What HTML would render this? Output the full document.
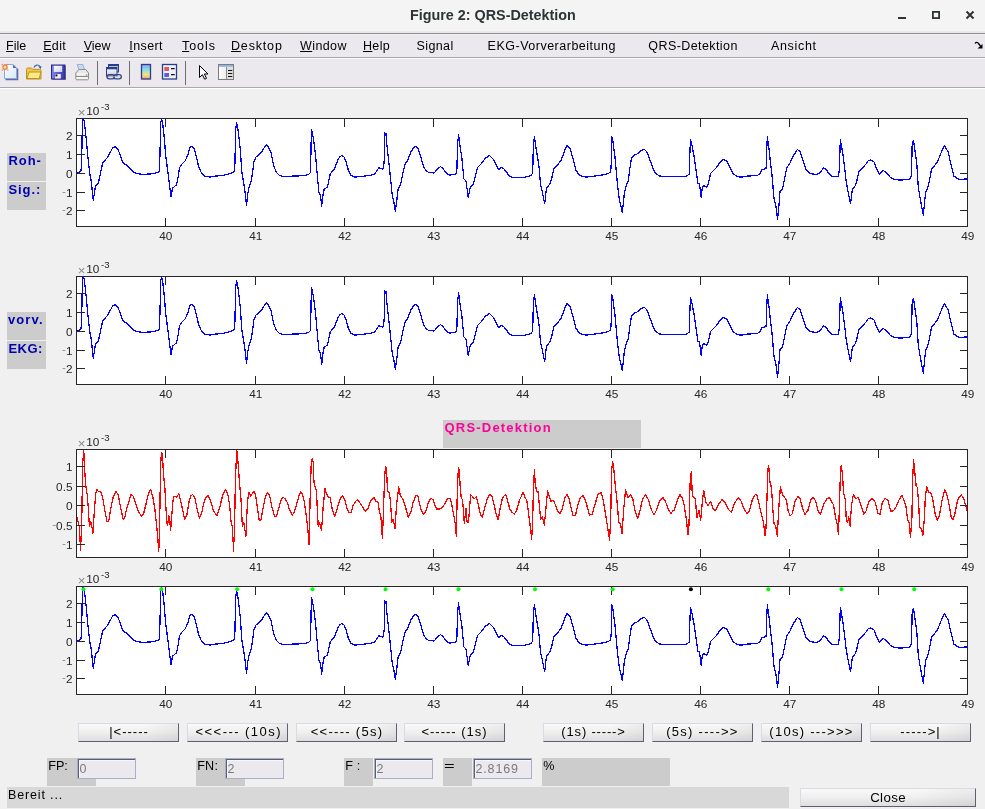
<!DOCTYPE html>
<html><head><meta charset="utf-8"><style>
*{margin:0;padding:0;box-sizing:border-box}
html,body{width:985px;height:809px;overflow:hidden;background:#f0f0f0;font-family:"Liberation Sans", sans-serif;}
.abs{position:absolute}
#title{position:absolute;left:0;top:0;width:985px;height:33px;background:linear-gradient(#f4f4f4 0,#f4f4f4 31px,#e8e8e8 31px,#e8e8e8 33px);}
#title .t{position:absolute;left:410px;top:7px;font-size:14.35px;font-weight:bold;color:#2e3436;white-space:nowrap;letter-spacing:0px}
#tline{position:absolute;left:0;top:33px;width:985px;height:1px;background:#8d8d89}
#menubar{position:absolute;left:0;top:34px;width:985px;height:23px;background:linear-gradient(#f1f0f4 0,#f1f0f4 1px,#ebe9ee 1px)}
#mline{position:absolute;left:0;top:57px;width:985px;height:1px;background:#a9a9ad}
#mline2{position:absolute;left:0;top:58px;width:985px;height:1px;background:#fbfbfc}
.mi{position:absolute;top:5px;font-size:12.5px;color:#000;white-space:nowrap}
.mi u{text-decoration:underline;text-underline-offset:1px}
#toolbar{position:absolute;left:0;top:59px;width:985px;height:28px;background:#ebe9ee}
#tbline{position:absolute;left:0;top:87px;width:985px;height:1px;background:#a9a9ad;box-shadow:0 1px 0 #ffffff}
.ic{position:absolute;overflow:visible}
.sep{position:absolute;top:62px;width:1px;height:23px;background:#707070}
.lbl{position:absolute;background:#cccccc;color:#0000b0;font-weight:bold;font-size:13px;letter-spacing:0.9px;padding:0 0 0 1.5px;line-height:15px;white-space:nowrap}
.btn{position:absolute;background:linear-gradient(to right,rgba(255,255,255,0) 65%,rgba(0,0,0,0.05)),linear-gradient(#f9f9f9,#efefef 50%,#dedede);border:1px solid #dadae4;border-right-color:#5c6070;border-bottom-color:#5c6070;font-size:13px;text-align:center;line-height:16px;color:#000;white-space:nowrap}
.gl{position:absolute;background:#cccccc;font-size:12.6px;color:#000;line-height:14px;white-space:nowrap;padding-left:1.2px;padding-top:1px;letter-spacing:0.2px}
.ed{position:absolute;background:#ebe9ee;border:1px solid #a9afc6;box-shadow:inset 1px 1px 0 #5b5f6f,inset 2px 2px 0 #f8f8fa;font-size:12.5px;color:#7a7a7a;line-height:21px;padding-left:1.5px;white-space:nowrap;letter-spacing:0.3px}
svg text{font-family:"Liberation Sans", sans-serif;font-size:11.8px;fill:#262626}
</style></head><body><div id="wrap" style="position:absolute;left:0;top:0;width:985px;height:809px;will-change:transform">
<div id="title"><span class="t">Figure 2: QRS-Detektion</span>
<svg class="abs" style="left:0;top:0" width="985" height="33">
<rect x="898" y="17" width="8" height="2" fill="#2e3436"/>
<rect x="932.9" y="11.9" width="6.2" height="6.2" fill="none" stroke="#2e3436" stroke-width="1.8"/>
<path d="M966.5,11.5l7,7M973.5,11.5l-7,7" stroke="#2e3436" stroke-width="2"/>
</svg></div>
<div id="tline"></div>
<div id="menubar">
<span class="mi" style="left:6.1px;letter-spacing:0px"><u>F</u>ile</span>
<span class="mi" style="left:43.2px;letter-spacing:0.33px"><u>E</u>dit</span>
<span class="mi" style="left:83.7px;letter-spacing:0px"><u>V</u>iew</span>
<span class="mi" style="left:129.3px;letter-spacing:0.4px"><u>I</u>nsert</span>
<span class="mi" style="left:182px;letter-spacing:0.95px"><u>T</u>ools</span>
<span class="mi" style="left:231px;letter-spacing:0.83px"><u>D</u>esktop</span>
<span class="mi" style="left:300px;letter-spacing:0.4px"><u>W</u>indow</span>
<span class="mi" style="left:363px;letter-spacing:0.33px"><u>H</u>elp</span>
<span class="mi" style="left:416.5px;letter-spacing:0.4px">Signal</span>
<span class="mi" style="left:487.6px;letter-spacing:0.5px">EKG-Vorverarbeitung</span>
<span class="mi" style="left:648.3px;letter-spacing:0.42px">QRS-Detektion</span>
<span class="mi" style="left:770.9px;letter-spacing:0.7px">Ansicht</span>
<svg class="abs" style="left:974px;top:7px" width="10" height="9" viewBox="0 0 10 9"><path d="M1,2.5c1,-1.5 2.5,-1.5 3.5,0l2,2.5" fill="none" stroke="#000" stroke-width="1.3"/><path d="M3.5,7.5h5v-4.5z" fill="#000"/></svg>
</div>
<div id="mline"></div><div id="mline2"></div>
<div id="toolbar"></div>
<div id="tbline"></div>

<svg class="abs" style="left:0;top:0" width="245" height="90" viewBox="0 0 245 90">
<defs>
 <linearGradient id="pg" x1="0" y1="0" x2="1" y2="1"><stop offset="0" stop-color="#ffffff"/><stop offset="1" stop-color="#d6e6fa"/></linearGradient>
 <linearGradient id="sv" x1="0" y1="0" x2="1" y2="0"><stop offset="0" stop-color="#8484f0"/><stop offset="1" stop-color="#3434a4"/></linearGradient>
 <linearGradient id="svl" x1="0" y1="0" x2="1" y2="1"><stop offset="0" stop-color="#ffffff"/><stop offset="1" stop-color="#c8cff0"/></linearGradient>
 <linearGradient id="cb" x1="0" y1="0" x2="0" y2="1"><stop offset="0" stop-color="#a098f0"/><stop offset="0.35" stop-color="#80e0e8"/><stop offset="0.7" stop-color="#f0e484"/><stop offset="1" stop-color="#f89a80"/></linearGradient>
 <linearGradient id="wn" x1="0" y1="0" x2="0" y2="1"><stop offset="0" stop-color="#ffffff"/><stop offset="1" stop-color="#c8ccd8"/></linearGradient>
 <linearGradient id="pp" x1="0" y1="0" x2="1" y2="0"><stop offset="0" stop-color="#ffffff"/><stop offset="1" stop-color="#dcdcdc"/></linearGradient>
</defs>
<!-- new -->
<path d="M5.5,79.5H17.5V68.5" fill="none" stroke="#666a9c" stroke-width="1.6"/>
<path d="M4.5,64.5h8.5l3.5,3.5v10.5h-12z" fill="url(#pg)" stroke="#8aa8dc"/>
<path d="M13,64.5v3.5h3.5z" fill="#4e6cb0"/>
<circle cx="5" cy="67.3" r="2.1" fill="#f6e27a" stroke="#ef7d4f" stroke-width="1.3"/>
<circle cx="2.2" cy="64.5" r="0.75" fill="#ef7d4f"/><circle cx="7.8" cy="64.5" r="0.75" fill="#ef7d4f"/>
<circle cx="2.2" cy="70" r="0.75" fill="#ef7d4f"/><circle cx="7.8" cy="70" r="0.75" fill="#ef7d4f"/>
<!-- open -->
<path d="M26.5,69.5c0,-1 0.5,-1.5 1.5,-1.5h3.5l1.2,1.3h6.8c1,0 1.5,0.5 1.5,1.5v8.2h-14.5z" fill="#f0c844" stroke="#c0901c"/>
<path d="M27,78.5l2,-6.5h12l-1.8,6.5z" fill="#fde98a" stroke="#c0901c"/>
<path d="M34,67.5c0.8,-2.8 4.5,-3.4 6,-1" fill="none" stroke="#3a64a8" stroke-width="1.2"/>
<path d="M38.2,66.6l3.2,-0.6l-0.6,3.2z" fill="#3a64a8"/>
<!-- save -->
<rect x="52.5" y="66" width="13.5" height="14" fill="#3a3a6a" opacity="0.55"/>
<rect x="51.5" y="65" width="13.5" height="14" fill="url(#sv)" stroke="#2a2a86"/>
<rect x="53.8" y="65.8" width="8.4" height="6.2" fill="url(#svl)"/>
<rect x="55" y="74" width="5.8" height="4.5" fill="#eeeef6"/>
<rect x="55.4" y="74.4" width="2" height="2" fill="#101030"/>
<!-- print -->
<path d="M77.2,64.5h5.6l1.6,5h-5.6z" fill="#c4dcf8" stroke="#98b0d4"/>
<path d="M75.8,73l3,-3.5h7l2.7,3.5v3.5h-12.7z" fill="#e8e8e8" stroke="#8c8c8c"/>
<path d="M75.8,76.5h12.7v2.3c0,0.6 -0.4,1 -1,1h-10.7c-0.6,0 -1,-0.4 -1,-1z" fill="#f6f6f6" stroke="#8c8c8c"/>
<path d="M77,74h10.5" stroke="#ffffff"/>
<circle cx="86.5" cy="75" r="0.8" fill="#48c048"/>
<!-- sep -->
<rect x="97" y="61" width="1" height="24" fill="#6e6e70"/>
<!-- link -->
<rect x="108.5" y="64.5" width="10" height="7.5" fill="url(#wn)" stroke="#2a3c8c"/>
<rect x="108.5" y="64.5" width="10" height="1.8" fill="#2a3c8c"/>
<rect x="106.5" y="67.5" width="10.5" height="8.5" fill="url(#wn)" stroke="#2a3c8c"/>
<rect x="106.5" y="67.5" width="10.5" height="1.8" fill="#2a3c8c"/>
<rect x="107" y="74.6" width="7.5" height="4.3" rx="2.1" fill="none" stroke="#324480" stroke-width="1.3"/>
<rect x="113.5" y="74.6" width="7.8" height="4.3" rx="2.1" fill="none" stroke="#324480" stroke-width="1.3"/>
<path d="M108.5,76.75h11" stroke="#b8c8e0" stroke-width="0.8"/>
<!-- sep -->
<rect x="129" y="61" width="1" height="24" fill="#6e6e70"/>
<!-- colorbar -->
<rect x="141.5" y="64.5" width="9" height="14.5" fill="url(#cb)" stroke="#2a3c8c" stroke-width="1.3"/>
<!-- legend -->
<rect x="162.5" y="64.5" width="14" height="14.5" fill="#f0f2fa" stroke="#2a3c8c" stroke-width="1.3"/>
<rect x="164.3" y="67" width="4.7" height="4" fill="#e85858"/>
<rect x="164.3" y="73" width="4.7" height="4" fill="#5c5ce8"/>
<path d="M171,68.6h3.7M171,74.6h3.7" stroke="#111" stroke-width="1.1"/>
<!-- sep -->
<rect x="185" y="61" width="1" height="24" fill="#6e6e70"/>
<!-- cursor -->
<path d="M199.5,65.5v12l2.9,-2.8l2.2,4.5l1.9,-0.8l-2.1,-4.4h3.6z" fill="#fff" stroke="#000" stroke-width="1" stroke-linejoin="miter"/>
<!-- property editor -->
<rect x="218.5" y="64.5" width="15" height="15" fill="url(#pp)" stroke="#7c7c7c"/>
<rect x="219" y="65" width="14" height="1.8" fill="#8ab4e0"/>
<rect x="226.5" y="66.8" width="6.5" height="12.2" fill="#dedede"/>
<path d="M226.5,66.8v12.5" stroke="#8c8c8c"/>
<path d="M228,70.5h4.3M228,73.5h4.3M228,76.5h4.3" stroke="#111" stroke-width="1.1"/>
</svg>

<svg class="abs" style="left:0;top:0" width="985" height="809">
<rect x="76" y="118" width="892" height="109" fill="#fff"/>
<clipPath id="c118"><rect x="76" y="118" width="892" height="109"/></clipPath>
<polyline clip-path="url(#c118)" points="76.7,173.3 79.6,171.9 81.0,171.1 81.7,159.0 82.4,120.7 83.4,118.1 84.2,120.7 85.7,133.5 87.4,152.0 89.5,171.9 91.3,181.8 93.3,200.3 95.2,187.5 96.6,184.7 98.3,183.2 100.2,174.7 102.6,163.3 105.1,160.2 107.3,157.6 110.1,152.7 112.7,147.7 115.1,146.6 117.5,148.8 119.3,152.7 121.5,159.1 123.6,163.8 125.7,164.5 128.6,166.9 131.4,169.7 134.3,172.6 137.1,173.7 142.8,174.3 149.9,174.0 154.9,173.3 158.4,171.9 159.6,170.4 159.9,156.2 160.8,122.1 161.6,119.0 162.7,123.5 164.1,136.3 165.8,156.2 168.4,176.1 169.8,187.5 170.9,196.7 172.6,188.2 176.6,184.7 178.0,177.5 179.5,167.6 182.6,163.3 185.4,160.5 187.8,154.8 190.2,147.0 192.1,146.3 194.2,148.4 196.3,156.2 198.5,166.2 201.3,172.6 204.9,176.1 209.8,177.1 215.5,176.1 222.6,175.4 228.3,174.0 232.6,172.6 234.3,171.1 234.9,163.3 235.7,129.2 236.6,122.8 237.6,126.4 239.0,137.7 240.4,150.5 241.8,171.9 244.0,184.7 245.4,194.6 246.5,205.3 247.9,193.2 249.2,186.8 251.1,181.8 252.5,173.3 253.9,161.9 256.0,156.9 258.9,154.8 261.7,152.0 264.6,147.0 266.7,145.1 268.8,147.7 271.0,152.7 273.8,166.2 276.6,172.6 279.5,175.4 284.5,176.8 292.1,176.1 302.1,175.8 308.5,174.7 310.3,172.6 310.9,154.8 311.4,129.2 312.3,132.1 314.1,143.4 315.6,156.2 317.0,171.9 318.8,191.8 320.5,196.0 321.7,206.0 323.1,194.6 324.1,189.6 327.4,186.8 328.3,183.2 330.2,174.0 331.9,171.9 334.7,168.3 337.6,160.5 339.7,156.9 341.6,155.5 344.0,156.9 346.1,161.9 348.2,169.7 351.1,175.4 354.6,177.1 361.7,176.4 370.3,175.4 374.5,174.0 376.7,171.1 378.8,167.6 380.9,168.7 383.1,169.0 384.1,163.3 384.8,132.8 385.9,133.5 387.0,146.3 388.8,161.9 390.9,181.8 392.3,196.0 393.6,200.3 395.4,211.4 396.8,200.3 398.2,188.9 400.7,183.9 402.8,173.3 404.9,164.8 407.8,159.8 411.3,151.2 414.2,147.0 416.3,146.6 418.4,149.1 420.6,156.2 423.4,166.2 426.2,171.1 429.1,172.6 434.1,173.0 436.9,169.7 440.5,166.5 443.3,169.0 446.9,173.6 449.7,175.0 455.4,174.4 456.8,171.9 457.5,146.3 458.5,134.2 459.6,143.4 461.8,157.6 463.9,179.0 466.0,181.1 468.2,197.2 470.3,187.5 473.1,184.7 475.3,176.1 477.4,167.6 481.0,164.0 485.2,158.4 489.5,155.5 493.8,159.8 496.6,165.5 498.7,169.7 500.7,167.6 503.5,168.3 506.4,171.9 509.2,176.1 512.1,177.3 524.8,177.3 530.5,175.8 532.7,173.3 533.4,143.4 534.5,137.0 535.5,144.9 537.6,157.6 539.1,167.6 540.5,184.7 542.6,193.2 544.7,203.8 546.4,188.2 549.7,184.0 551.9,177.5 554.0,168.3 557.5,164.8 561.1,160.5 564.6,150.5 567.2,145.1 570.3,149.1 573.2,159.1 576.0,170.4 579.6,175.4 586.0,177.1 594.5,176.1 600.0,175.4 605.7,174.4 609.9,172.6 611.1,167.6 611.7,136.3 612.8,140.6 614.9,156.2 616.3,171.9 617.8,187.5 619.2,198.9 622.3,212.4 624.2,194.6 625.6,187.5 628.4,180.4 629.8,169.0 631.6,157.6 634.1,155.1 637.0,154.1 641.2,150.5 644.1,149.1 646.9,152.0 649.7,159.1 652.6,167.6 655.4,173.3 659.7,176.1 671.1,176.4 679.6,176.8 686.7,176.1 689.3,174.0 689.8,154.8 690.5,139.2 691.7,144.1 693.8,154.8 695.9,169.0 697.8,183.2 699.5,183.9 701.2,197.4 702.3,187.5 704.0,185.4 706.6,187.5 708.0,184.7 708.6,181.8 710.7,173.3 713.5,170.4 716.4,167.6 719.9,162.6 723.5,159.4 727.0,161.2 729.9,166.9 732.7,173.3 737.7,176.8 742.0,177.1 747.6,176.1 757.6,175.4 760.4,173.3 761.9,169.7 766.1,168.7 766.5,154.8 767.3,137.0 768.7,146.3 770.4,161.9 772.1,176.1 773.9,197.4 776.1,207.4 777.5,219.5 778.9,206.0 780.0,191.8 782.5,188.9 784.6,179.0 786.7,167.6 789.6,164.0 793.1,156.2 797.4,149.4 800.2,152.0 803.1,160.5 805.9,169.0 809.5,173.3 815.0,174.4 817.8,174.0 820.7,171.9 823.5,167.9 826.3,169.7 829.2,174.0 832.0,176.8 838.4,176.8 839.4,169.0 840.3,139.2 841.3,144.9 843.4,157.6 844.8,169.0 846.2,181.8 848.1,191.8 850.5,203.4 852.4,189.6 855.5,185.4 856.9,180.4 859.0,171.1 862.6,167.6 866.1,164.0 868.3,160.5 870.8,159.8 874.0,161.9 876.1,167.6 879.4,174.0 883.0,170.4 886.5,172.6 890.5,177.5 895.3,179.7 901.0,180.1 909.3,179.2 911.5,176.1 912.2,143.4 913.4,140.3 914.8,149.1 916.9,164.7 918.3,187.5 920.5,200.3 923.3,215.2 925.5,193.2 928.3,186.1 931.6,169.0 934.7,165.5 937.5,161.9 941.1,152.7 944.6,145.6 948.2,152.0 951.0,164.7 953.9,176.1 958.9,179.3 967.5,179.0" fill="none" stroke="#0000ff" stroke-width="1.25" stroke-linejoin="round" shape-rendering="crispEdges"/>
<rect x="76.5" y="118.5" width="891" height="108" fill="none" stroke="#262626" stroke-width="1"/>
<path d="M165.5,226v-8M165.5,119v8M255.5,226v-8M255.5,119v8M344.5,226v-8M344.5,119v8M433.5,226v-8M433.5,119v8M522.5,226v-8M522.5,119v8M611.5,226v-8M611.5,119v8M700.5,226v-8M700.5,119v8M789.5,226v-8M789.5,119v8M878.5,226v-8M878.5,119v8M967.5,226v-8M967.5,119v8M77,135.5h8M967,135.5h-7M77,154.5h8M967,154.5h-7M77,173.5h8M967,173.5h-7M77,192.5h8M967,192.5h-7M77,210.5h8M967,210.5h-7" stroke="#262626" stroke-width="1" fill="none"/>
<text x="165.7" y="240" text-anchor="middle">40</text>
<text x="255.7" y="240" text-anchor="middle">41</text>
<text x="344.7" y="240" text-anchor="middle">42</text>
<text x="433.7" y="240" text-anchor="middle">43</text>
<text x="522.7" y="240" text-anchor="middle">44</text>
<text x="611.7" y="240" text-anchor="middle">45</text>
<text x="700.7" y="240" text-anchor="middle">46</text>
<text x="789.7" y="240" text-anchor="middle">47</text>
<text x="878.7" y="240" text-anchor="middle">48</text>
<text x="967.7" y="240" text-anchor="middle">49</text>
<text x="72.5" y="139.5" text-anchor="end">2</text>
<text x="72.5" y="158.5" text-anchor="end">1</text>
<text x="72.5" y="177.5" text-anchor="end">0</text>
<text x="72.5" y="196.5" text-anchor="end"><tspan dy="-1.3" style="fill:#8c8c8c">-</tspan><tspan dy="1.3">1</tspan></text>
<text x="72.5" y="214.5" text-anchor="end"><tspan dy="-1.3" style="fill:#8c8c8c">-</tspan><tspan dy="1.3">2</tspan></text>
<text x="77.8" y="117.4" style="fill:#8a8a8a;font-size:13.2px">×</text>
<text x="86.3" y="115.2" style="font-size:11.8px">10</text>
<text x="101.0" y="110.2" style="font-size:9.6px">-3</text>
<rect x="76" y="276" width="892" height="109" fill="#fff"/>
<clipPath id="c276"><rect x="76" y="276" width="892" height="109"/></clipPath>
<polyline clip-path="url(#c276)" points="76.7,331.3 79.6,329.9 81.0,329.1 81.7,317.0 82.4,278.7 83.4,276.1 84.2,278.7 85.7,291.5 87.4,310.0 89.5,329.9 91.3,339.8 93.3,358.3 95.2,345.5 96.6,342.7 98.3,341.2 100.2,332.7 102.6,321.3 105.1,318.2 107.3,315.6 110.1,310.7 112.7,305.7 115.1,304.6 117.5,306.8 119.3,310.7 121.5,317.1 123.6,321.8 125.7,322.5 128.6,324.9 131.4,327.7 134.3,330.6 137.1,331.7 142.8,332.3 149.9,332.0 154.9,331.3 158.4,329.9 159.6,328.4 159.9,314.2 160.8,280.1 161.6,277.0 162.7,281.5 164.1,294.3 165.8,314.2 168.4,334.1 169.8,345.5 170.9,354.7 172.6,346.2 176.6,342.7 178.0,335.5 179.5,325.6 182.6,321.3 185.4,318.5 187.8,312.8 190.2,305.0 192.1,304.3 194.2,306.4 196.3,314.2 198.5,324.2 201.3,330.6 204.9,334.1 209.8,335.1 215.5,334.1 222.6,333.4 228.3,332.0 232.6,330.6 234.3,329.1 234.9,321.3 235.7,287.2 236.6,280.8 237.6,284.4 239.0,295.7 240.4,308.5 241.8,329.9 244.0,342.7 245.4,352.6 246.5,363.3 247.9,351.2 249.2,344.8 251.1,339.8 252.5,331.3 253.9,319.9 256.0,314.9 258.9,312.8 261.7,310.0 264.6,305.0 266.7,303.1 268.8,305.7 271.0,310.7 273.8,324.2 276.6,330.6 279.5,333.4 284.5,334.8 292.1,334.1 302.1,333.8 308.5,332.7 310.3,330.6 310.9,312.8 311.4,287.2 312.3,290.1 314.1,301.4 315.6,314.2 317.0,329.9 318.8,349.8 320.5,354.0 321.7,364.0 323.1,352.6 324.1,347.6 327.4,344.8 328.3,341.2 330.2,332.0 331.9,329.9 334.7,326.3 337.6,318.5 339.7,314.9 341.6,313.5 344.0,314.9 346.1,319.9 348.2,327.7 351.1,333.4 354.6,335.1 361.7,334.4 370.3,333.4 374.5,332.0 376.7,329.1 378.8,325.6 380.9,326.7 383.1,327.0 384.1,321.3 384.8,290.8 385.9,291.5 387.0,304.3 388.8,319.9 390.9,339.8 392.3,354.0 393.6,358.3 395.4,369.4 396.8,358.3 398.2,346.9 400.7,341.9 402.8,331.3 404.9,322.8 407.8,317.8 411.3,309.2 414.2,305.0 416.3,304.6 418.4,307.1 420.6,314.2 423.4,324.2 426.2,329.1 429.1,330.6 434.1,331.0 436.9,327.7 440.5,324.5 443.3,327.0 446.9,331.6 449.7,333.0 455.4,332.4 456.8,329.9 457.5,304.3 458.5,292.2 459.6,301.4 461.8,315.6 463.9,337.0 466.0,339.1 468.2,355.2 470.3,345.5 473.1,342.7 475.3,334.1 477.4,325.6 481.0,322.0 485.2,316.4 489.5,313.5 493.8,317.8 496.6,323.5 498.7,327.7 500.7,325.6 503.5,326.3 506.4,329.9 509.2,334.1 512.1,335.3 524.8,335.3 530.5,333.8 532.7,331.3 533.4,301.4 534.5,295.0 535.5,302.9 537.6,315.6 539.1,325.6 540.5,342.7 542.6,351.2 544.7,361.8 546.4,346.2 549.7,342.0 551.9,335.5 554.0,326.3 557.5,322.8 561.1,318.5 564.6,308.5 567.2,303.1 570.3,307.1 573.2,317.1 576.0,328.4 579.6,333.4 586.0,335.1 594.5,334.1 600.0,333.4 605.7,332.4 609.9,330.6 611.1,325.6 611.7,294.3 612.8,298.6 614.9,314.2 616.3,329.9 617.8,345.5 619.2,356.9 622.3,370.4 624.2,352.6 625.6,345.5 628.4,338.4 629.8,327.0 631.6,315.6 634.1,313.1 637.0,312.1 641.2,308.5 644.1,307.1 646.9,310.0 649.7,317.1 652.6,325.6 655.4,331.3 659.7,334.1 671.1,334.4 679.6,334.8 686.7,334.1 689.3,332.0 689.8,312.8 690.5,297.2 691.7,302.1 693.8,312.8 695.9,327.0 697.8,341.2 699.5,341.9 701.2,355.4 702.3,345.5 704.0,343.4 706.6,345.5 708.0,342.7 708.6,339.8 710.7,331.3 713.5,328.4 716.4,325.6 719.9,320.6 723.5,317.4 727.0,319.2 729.9,324.9 732.7,331.3 737.7,334.8 742.0,335.1 747.6,334.1 757.6,333.4 760.4,331.3 761.9,327.7 766.1,326.7 766.5,312.8 767.3,295.0 768.7,304.3 770.4,319.9 772.1,334.1 773.9,355.4 776.1,365.4 777.5,377.5 778.9,364.0 780.0,349.8 782.5,346.9 784.6,337.0 786.7,325.6 789.6,322.0 793.1,314.2 797.4,307.4 800.2,310.0 803.1,318.5 805.9,327.0 809.5,331.3 815.0,332.4 817.8,332.0 820.7,329.9 823.5,325.9 826.3,327.7 829.2,332.0 832.0,334.8 838.4,334.8 839.4,327.0 840.3,297.2 841.3,302.9 843.4,315.6 844.8,327.0 846.2,339.8 848.1,349.8 850.5,361.4 852.4,347.6 855.5,343.4 856.9,338.4 859.0,329.1 862.6,325.6 866.1,322.0 868.3,318.5 870.8,317.8 874.0,319.9 876.1,325.6 879.4,332.0 883.0,328.4 886.5,330.6 890.5,335.5 895.3,337.7 901.0,338.1 909.3,337.2 911.5,334.1 912.2,301.4 913.4,298.3 914.8,307.1 916.9,322.7 918.3,345.5 920.5,358.3 923.3,373.2 925.5,351.2 928.3,344.1 931.6,327.0 934.7,323.5 937.5,319.9 941.1,310.7 944.6,303.6 948.2,310.0 951.0,322.7 953.9,334.1 958.9,337.3 967.5,337.0" fill="none" stroke="#0000ff" stroke-width="1.25" stroke-linejoin="round" shape-rendering="crispEdges"/>
<rect x="76.5" y="276.5" width="891" height="108" fill="none" stroke="#262626" stroke-width="1"/>
<path d="M165.5,384v-8M165.5,277v8M255.5,384v-8M255.5,277v8M344.5,384v-8M344.5,277v8M433.5,384v-8M433.5,277v8M522.5,384v-8M522.5,277v8M611.5,384v-8M611.5,277v8M700.5,384v-8M700.5,277v8M789.5,384v-8M789.5,277v8M878.5,384v-8M878.5,277v8M967.5,384v-8M967.5,277v8M77,293.5h8M967,293.5h-7M77,312.5h8M967,312.5h-7M77,331.5h8M967,331.5h-7M77,350.5h8M967,350.5h-7M77,368.5h8M967,368.5h-7" stroke="#262626" stroke-width="1" fill="none"/>
<text x="165.7" y="398" text-anchor="middle">40</text>
<text x="255.7" y="398" text-anchor="middle">41</text>
<text x="344.7" y="398" text-anchor="middle">42</text>
<text x="433.7" y="398" text-anchor="middle">43</text>
<text x="522.7" y="398" text-anchor="middle">44</text>
<text x="611.7" y="398" text-anchor="middle">45</text>
<text x="700.7" y="398" text-anchor="middle">46</text>
<text x="789.7" y="398" text-anchor="middle">47</text>
<text x="878.7" y="398" text-anchor="middle">48</text>
<text x="967.7" y="398" text-anchor="middle">49</text>
<text x="72.5" y="297.5" text-anchor="end">2</text>
<text x="72.5" y="316.5" text-anchor="end">1</text>
<text x="72.5" y="335.5" text-anchor="end">0</text>
<text x="72.5" y="354.5" text-anchor="end"><tspan dy="-1.3" style="fill:#8c8c8c">-</tspan><tspan dy="1.3">1</tspan></text>
<text x="72.5" y="372.5" text-anchor="end"><tspan dy="-1.3" style="fill:#8c8c8c">-</tspan><tspan dy="1.3">2</tspan></text>
<text x="77.8" y="275.4" style="fill:#8a8a8a;font-size:13.2px">×</text>
<text x="86.3" y="273.2" style="font-size:11.8px">10</text>
<text x="101.0" y="268.2" style="font-size:9.6px">-3</text>
<rect x="76" y="449" width="892" height="109" fill="#fff"/>
<clipPath id="c449"><rect x="76" y="449" width="892" height="109"/></clipPath>
<polyline clip-path="url(#c449)" points="76.7,515.8 78.1,522.1 79.5,527.0 80.5,550.3 81.4,530.6 81.9,512.2 82.6,465.7 83.7,449.1 84.5,467.1 85.6,484.0 87.3,495.3 88.4,509.4 89.4,526.3 90.8,521.4 91.8,526.3 92.9,533.4 94.3,510.8 95.7,493.9 97.1,489.4 98.5,491.8 100.6,491.4 102.8,498.1 104.9,510.8 107.0,521.4 108.7,521.4 110.5,510.1 113.3,496.7 116.1,491.4 118.3,495.3 120.4,506.6 123.2,519.3 124.6,518.6 126.7,508.0 128.8,502.4 130.9,494.2 133.0,496.0 135.2,502.4 138.0,510.8 141.5,516.5 143.6,513.6 146.4,502.4 148.5,493.9 150.6,489.4 152.8,496.7 154.9,509.4 157.0,529.1 158.8,551.0 159.8,515.0 160.5,467.1 161.4,452.3 162.4,454.5 163.5,474.2 164.9,488.3 165.9,506.6 166.8,523.5 167.7,524.9 168.7,515.8 169.6,517.9 170.6,530.6 172.0,512.2 173.4,496.7 176.9,497.0 178.7,493.9 180.4,499.6 182.5,509.4 184.6,519.0 186.8,515.0 188.9,502.4 190.7,496.0 192.7,494.6 194.9,498.1 196.9,508.0 199.4,518.2 201.5,513.6 203.7,503.8 205.8,497.4 208.3,495.6 210.7,501.0 213.5,510.8 217.0,515.8 219.9,506.6 222.7,495.3 225.5,489.7 227.6,493.2 229.7,505.2 231.1,522.1 232.5,527.7 233.5,551.0 234.6,526.3 235.4,478.4 236.8,450.2 238.2,464.3 239.6,484.0 241.0,499.6 242.4,526.3 243.8,522.8 245.9,536.2 247.3,505.2 248.5,493.2 249.5,492.5 250.6,496.0 252.7,493.2 254.2,491.4 255.6,495.3 257.4,508.0 259.1,520.0 260.8,520.7 262.6,510.8 265.0,498.1 267.5,492.2 269.6,495.3 271.8,506.6 274.6,516.5 276.7,515.8 278.8,508.0 281.3,499.6 283.3,497.4 285.1,498.8 287.3,502.4 289.4,509.4 292.2,515.0 294.3,512.2 296.4,505.2 298.5,497.4 300.6,491.4 302.0,493.2 304.2,501.0 306.3,516.5 307.7,527.7 309.1,544.6 310.1,499.6 311.2,464.3 312.3,458.7 313.3,462.9 314.0,482.6 315.4,488.3 316.5,491.1 317.1,505.2 318.2,526.3 319.6,522.8 321.5,530.6 323.2,506.6 325.0,488.3 326.0,492.5 328.1,496.7 330.2,497.9 332.3,509.4 334.5,516.5 336.3,512.2 338.5,503.8 340.6,498.1 342.7,496.0 344.8,499.6 346.9,508.0 349.0,512.9 351.1,512.2 353.2,505.2 355.4,501.7 357.5,499.6 359.6,502.4 362.4,506.6 365.5,511.5 368.0,508.7 370.1,501.7 372.3,498.8 373.9,497.4 375.8,501.0 377.9,501.7 379.3,510.8 381.0,517.9 382.4,538.3 383.5,510.8 384.6,477.0 385.6,466.4 386.6,470.0 387.5,491.1 389.2,492.5 390.6,502.4 391.7,522.1 393.1,519.3 395.1,528.4 396.5,505.2 398.7,486.9 400.4,496.0 403.2,499.6 405.4,506.6 408.2,517.2 411.0,511.5 413.1,502.4 415.9,495.3 418.0,496.0 419.2,502.4 421.3,510.8 423.7,514.3 426.0,510.8 428.4,502.4 430.8,498.4 433.0,499.6 434.7,505.2 436.8,509.1 439.6,509.1 442.5,507.3 444.9,503.8 447.4,498.8 450.2,498.8 451.9,505.2 453.7,515.0 455.1,522.8 456.3,536.2 457.3,491.1 458.4,467.8 459.4,470.0 460.1,485.5 461.2,498.1 462.6,499.6 464.3,523.5 466.0,508.7 467.1,522.1 468.5,522.8 470.6,494.6 472.0,496.0 474.2,498.8 476.3,496.7 478.4,505.2 480.5,515.0 482.3,517.2 484.7,508.0 487.1,499.6 489.6,494.6 491.8,496.0 493.9,503.8 496.0,513.6 498.1,520.0 500.2,508.0 502.3,498.8 504.4,495.3 505.6,494.6 507.7,501.0 509.9,509.4 512.0,512.2 514.4,514.3 516.9,509.4 519.7,499.6 523.2,492.5 525.4,498.1 526.8,500.3 528.2,510.8 529.6,520.7 530.7,530.6 531.7,539.0 532.7,519.3 533.5,484.0 534.5,469.3 535.2,484.0 536.6,491.1 538.0,491.8 539.4,505.2 540.6,519.3 542.3,516.5 544.4,524.9 545.8,509.4 547.6,491.1 549.0,495.3 550.7,501.0 553.5,500.7 555.6,505.2 557.7,511.5 559.9,513.4 562.0,509.4 564.8,498.1 566.9,494.6 569.0,498.1 571.1,508.0 573.2,515.8 575.4,515.8 577.5,506.6 580.3,497.4 583.1,495.6 585.2,499.6 587.3,507.0 589.5,515.0 592.0,514.3 594.9,505.2 597.7,494.6 601.2,492.5 603.3,501.0 605.4,513.6 607.5,526.3 609.6,540.4 610.8,515.0 611.5,471.4 612.7,461.5 613.9,470.0 615.3,485.5 617.4,505.2 618.8,522.8 620.5,523.5 622.0,534.1 623.7,509.4 625.6,489.7 628.0,497.4 630.8,494.6 632.9,499.6 635.4,512.2 637.8,518.6 639.9,510.8 642.7,498.8 645.6,494.6 648.4,499.6 651.2,509.4 654.0,515.0 656.8,509.4 659.6,501.0 662.7,497.4 665.3,501.0 668.1,508.7 670.9,513.4 673.0,510.8 674.2,510.1 676.8,501.7 679.9,494.6 682.7,498.8 684.1,505.2 686.2,517.9 688.0,535.1 689.0,524.9 689.7,496.7 690.4,474.2 691.4,472.1 692.3,495.3 693.7,497.4 695.4,498.8 696.8,517.9 698.9,510.1 700.7,520.7 702.4,501.0 703.8,490.4 705.9,502.4 708.0,505.5 710.6,501.7 713.0,508.7 715.4,510.8 718.6,504.5 722.1,499.3 724.9,502.4 728.5,509.4 731.3,512.2 734.8,502.4 738.7,497.9 741.1,501.0 743.9,508.7 746.8,513.4 748.9,512.2 752.4,499.6 755.2,494.6 757.2,495.5 759.3,505.2 761.3,513.6 763.5,522.1 764.9,535.5 766.0,527.7 767.0,498.1 767.7,470.0 768.7,465.4 769.8,481.2 771.6,488.3 772.6,506.6 774.0,523.5 775.8,526.3 777.3,536.2 778.7,509.4 780.4,486.9 782.5,494.6 784.6,497.4 786.3,499.6 788.1,510.8 790.2,515.8 792.3,513.6 795.1,501.0 798.0,496.5 800.1,498.8 802.9,509.4 805.0,514.3 807.8,510.8 810.6,500.3 813.2,497.4 815.6,501.0 818.4,512.2 820.5,514.3 823.3,505.2 826.8,498.8 829.6,497.4 831.8,501.7 833.6,505.2 835.6,517.9 837.4,524.9 838.4,534.8 839.5,505.2 840.5,468.5 841.3,465.4 842.5,474.2 843.5,492.5 845.4,499.6 846.3,520.7 847.7,522.1 848.7,516.5 850.1,526.3 851.5,505.2 853.4,494.6 855.5,498.8 858.3,497.4 860.4,503.8 863.9,514.3 866.1,510.8 868.9,501.7 872.4,498.4 875.2,502.4 878.0,513.6 880.1,514.3 882.3,502.4 885.1,498.4 887.9,500.3 890.7,511.1 893.5,510.8 896.3,506.6 899.2,499.6 901.8,495.3 903.7,499.6 906.0,506.6 907.7,520.0 909.1,522.8 910.5,537.3 911.9,518.0 912.6,479.8 913.6,460.1 914.8,472.0 916.1,485.5 917.5,488.0 918.8,506.6 919.8,527.7 921.5,528.4 922.9,535.1 924.3,519.3 925.3,498.1 926.6,486.5 928.8,492.5 931.3,493.2 933.0,501.0 935.1,513.6 937.3,520.0 939.4,515.8 942.2,499.6 944.6,489.7 947.1,495.3 949.2,505.2 951.3,517.9 953.0,520.0 954.9,513.6 957.7,499.6 961.2,494.6 964.0,499.6 967.5,512.2" fill="none" stroke="#ff0000" stroke-width="1.25" stroke-linejoin="round" shape-rendering="crispEdges"/>
<rect x="76.5" y="449.5" width="891" height="108" fill="none" stroke="#262626" stroke-width="1"/>
<path d="M165.5,557v-8M165.5,450v8M255.5,557v-8M255.5,450v8M344.5,557v-8M344.5,450v8M433.5,557v-8M433.5,450v8M522.5,557v-8M522.5,450v8M611.5,557v-8M611.5,450v8M700.5,557v-8M700.5,450v8M789.5,557v-8M789.5,450v8M878.5,557v-8M878.5,450v8M967.5,557v-8M967.5,450v8M77,466.5h8M967,466.5h-7M77,486.5h8M967,486.5h-7M77,505.5h8M967,505.5h-7M77,525.5h8M967,525.5h-7M77,544.5h8M967,544.5h-7" stroke="#262626" stroke-width="1" fill="none"/>
<text x="165.7" y="571" text-anchor="middle">40</text>
<text x="255.7" y="571" text-anchor="middle">41</text>
<text x="344.7" y="571" text-anchor="middle">42</text>
<text x="433.7" y="571" text-anchor="middle">43</text>
<text x="522.7" y="571" text-anchor="middle">44</text>
<text x="611.7" y="571" text-anchor="middle">45</text>
<text x="700.7" y="571" text-anchor="middle">46</text>
<text x="789.7" y="571" text-anchor="middle">47</text>
<text x="878.7" y="571" text-anchor="middle">48</text>
<text x="967.7" y="571" text-anchor="middle">49</text>
<text x="72.5" y="470.5" text-anchor="end">1</text>
<text x="72.5" y="490.5" text-anchor="end">0.5</text>
<text x="72.5" y="509.5" text-anchor="end">0</text>
<text x="72.5" y="529.5" text-anchor="end"><tspan dy="-1.3" style="fill:#8c8c8c">-</tspan><tspan dy="1.3">0.5</tspan></text>
<text x="72.5" y="548.5" text-anchor="end"><tspan dy="-1.3" style="fill:#8c8c8c">-</tspan><tspan dy="1.3">1</tspan></text>
<text x="77.8" y="448.4" style="fill:#8a8a8a;font-size:13.2px">×</text>
<text x="86.3" y="446.2" style="font-size:11.8px">10</text>
<text x="101.0" y="441.2" style="font-size:9.6px">-3</text>
<rect x="76" y="586" width="892" height="109" fill="#fff"/>
<clipPath id="c586"><rect x="76" y="586" width="892" height="109"/></clipPath>
<polyline clip-path="url(#c586)" points="76.7,641.3 79.6,639.9 81.0,639.1 81.7,627.0 82.4,588.7 83.4,586.1 84.2,588.7 85.7,601.5 87.4,620.0 89.5,639.9 91.3,649.8 93.3,668.3 95.2,655.5 96.6,652.7 98.3,651.2 100.2,642.7 102.6,631.3 105.1,628.2 107.3,625.6 110.1,620.7 112.7,615.7 115.1,614.6 117.5,616.8 119.3,620.7 121.5,627.1 123.6,631.8 125.7,632.5 128.6,634.9 131.4,637.7 134.3,640.6 137.1,641.7 142.8,642.3 149.9,642.0 154.9,641.3 158.4,639.9 159.6,638.4 159.9,624.2 160.8,590.1 161.6,587.0 162.7,591.5 164.1,604.3 165.8,624.2 168.4,644.1 169.8,655.5 170.9,664.7 172.6,656.2 176.6,652.7 178.0,645.5 179.5,635.6 182.6,631.3 185.4,628.5 187.8,622.8 190.2,615.0 192.1,614.3 194.2,616.4 196.3,624.2 198.5,634.2 201.3,640.6 204.9,644.1 209.8,645.1 215.5,644.1 222.6,643.4 228.3,642.0 232.6,640.6 234.3,639.1 234.9,631.3 235.7,597.2 236.6,590.8 237.6,594.4 239.0,605.7 240.4,618.5 241.8,639.9 244.0,652.7 245.4,662.6 246.5,673.3 247.9,661.2 249.2,654.8 251.1,649.8 252.5,641.3 253.9,629.9 256.0,624.9 258.9,622.8 261.7,620.0 264.6,615.0 266.7,613.1 268.8,615.7 271.0,620.7 273.8,634.2 276.6,640.6 279.5,643.4 284.5,644.8 292.1,644.1 302.1,643.8 308.5,642.7 310.3,640.6 310.9,622.8 311.4,597.2 312.3,600.1 314.1,611.4 315.6,624.2 317.0,639.9 318.8,659.8 320.5,664.0 321.7,674.0 323.1,662.6 324.1,657.6 327.4,654.8 328.3,651.2 330.2,642.0 331.9,639.9 334.7,636.3 337.6,628.5 339.7,624.9 341.6,623.5 344.0,624.9 346.1,629.9 348.2,637.7 351.1,643.4 354.6,645.1 361.7,644.4 370.3,643.4 374.5,642.0 376.7,639.1 378.8,635.6 380.9,636.7 383.1,637.0 384.1,631.3 384.8,600.8 385.9,601.5 387.0,614.3 388.8,629.9 390.9,649.8 392.3,664.0 393.6,668.3 395.4,679.4 396.8,668.3 398.2,656.9 400.7,651.9 402.8,641.3 404.9,632.8 407.8,627.8 411.3,619.2 414.2,615.0 416.3,614.6 418.4,617.1 420.6,624.2 423.4,634.2 426.2,639.1 429.1,640.6 434.1,641.0 436.9,637.7 440.5,634.5 443.3,637.0 446.9,641.6 449.7,643.0 455.4,642.4 456.8,639.9 457.5,614.3 458.5,602.2 459.6,611.4 461.8,625.6 463.9,647.0 466.0,649.1 468.2,665.2 470.3,655.5 473.1,652.7 475.3,644.1 477.4,635.6 481.0,632.0 485.2,626.4 489.5,623.5 493.8,627.8 496.6,633.5 498.7,637.7 500.7,635.6 503.5,636.3 506.4,639.9 509.2,644.1 512.1,645.3 524.8,645.3 530.5,643.8 532.7,641.3 533.4,611.4 534.5,605.0 535.5,612.9 537.6,625.6 539.1,635.6 540.5,652.7 542.6,661.2 544.7,671.8 546.4,656.2 549.7,652.0 551.9,645.5 554.0,636.3 557.5,632.8 561.1,628.5 564.6,618.5 567.2,613.1 570.3,617.1 573.2,627.1 576.0,638.4 579.6,643.4 586.0,645.1 594.5,644.1 600.0,643.4 605.7,642.4 609.9,640.6 611.1,635.6 611.7,604.3 612.8,608.6 614.9,624.2 616.3,639.9 617.8,655.5 619.2,666.9 622.3,680.4 624.2,662.6 625.6,655.5 628.4,648.4 629.8,637.0 631.6,625.6 634.1,623.1 637.0,622.1 641.2,618.5 644.1,617.1 646.9,620.0 649.7,627.1 652.6,635.6 655.4,641.3 659.7,644.1 671.1,644.4 679.6,644.8 686.7,644.1 689.3,642.0 689.8,622.8 690.5,607.2 691.7,612.1 693.8,622.8 695.9,637.0 697.8,651.2 699.5,651.9 701.2,665.4 702.3,655.5 704.0,653.4 706.6,655.5 708.0,652.7 708.6,649.8 710.7,641.3 713.5,638.4 716.4,635.6 719.9,630.6 723.5,627.4 727.0,629.2 729.9,634.9 732.7,641.3 737.7,644.8 742.0,645.1 747.6,644.1 757.6,643.4 760.4,641.3 761.9,637.7 766.1,636.7 766.5,622.8 767.3,605.0 768.7,614.3 770.4,629.9 772.1,644.1 773.9,665.4 776.1,675.4 777.5,687.5 778.9,674.0 780.0,659.8 782.5,656.9 784.6,647.0 786.7,635.6 789.6,632.0 793.1,624.2 797.4,617.4 800.2,620.0 803.1,628.5 805.9,637.0 809.5,641.3 815.0,642.4 817.8,642.0 820.7,639.9 823.5,635.9 826.3,637.7 829.2,642.0 832.0,644.8 838.4,644.8 839.4,637.0 840.3,607.2 841.3,612.9 843.4,625.6 844.8,637.0 846.2,649.8 848.1,659.8 850.5,671.4 852.4,657.6 855.5,653.4 856.9,648.4 859.0,639.1 862.6,635.6 866.1,632.0 868.3,628.5 870.8,627.8 874.0,629.9 876.1,635.6 879.4,642.0 883.0,638.4 886.5,640.6 890.5,645.5 895.3,647.7 901.0,648.1 909.3,647.2 911.5,644.1 912.2,611.4 913.4,608.3 914.8,617.1 916.9,632.7 918.3,655.5 920.5,668.3 923.3,683.2 925.5,661.2 928.3,654.1 931.6,637.0 934.7,633.5 937.5,629.9 941.1,620.7 944.6,613.6 948.2,620.0 951.0,632.7 953.9,644.1 958.9,647.3 967.5,647.0" fill="none" stroke="#0000ff" stroke-width="1.25" stroke-linejoin="round" shape-rendering="crispEdges"/>
<rect x="76.5" y="586.5" width="891" height="108" fill="none" stroke="#262626" stroke-width="1"/>
<path d="M165.5,694v-8M165.5,587v8M255.5,694v-8M255.5,587v8M344.5,694v-8M344.5,587v8M433.5,694v-8M433.5,587v8M522.5,694v-8M522.5,587v8M611.5,694v-8M611.5,587v8M700.5,694v-8M700.5,587v8M789.5,694v-8M789.5,587v8M878.5,694v-8M878.5,587v8M967.5,694v-8M967.5,587v8M77,603.5h8M967,603.5h-7M77,622.5h8M967,622.5h-7M77,641.5h8M967,641.5h-7M77,660.5h8M967,660.5h-7M77,678.5h8M967,678.5h-7" stroke="#262626" stroke-width="1" fill="none"/>
<text x="165.7" y="708" text-anchor="middle">40</text>
<text x="255.7" y="708" text-anchor="middle">41</text>
<text x="344.7" y="708" text-anchor="middle">42</text>
<text x="433.7" y="708" text-anchor="middle">43</text>
<text x="522.7" y="708" text-anchor="middle">44</text>
<text x="611.7" y="708" text-anchor="middle">45</text>
<text x="700.7" y="708" text-anchor="middle">46</text>
<text x="789.7" y="708" text-anchor="middle">47</text>
<text x="878.7" y="708" text-anchor="middle">48</text>
<text x="967.7" y="708" text-anchor="middle">49</text>
<text x="72.5" y="607.5" text-anchor="end">2</text>
<text x="72.5" y="626.5" text-anchor="end">1</text>
<text x="72.5" y="645.5" text-anchor="end">0</text>
<text x="72.5" y="664.5" text-anchor="end"><tspan dy="-1.3" style="fill:#8c8c8c">-</tspan><tspan dy="1.3">1</tspan></text>
<text x="72.5" y="682.5" text-anchor="end"><tspan dy="-1.3" style="fill:#8c8c8c">-</tspan><tspan dy="1.3">2</tspan></text>
<text x="77.8" y="585.4" style="fill:#8a8a8a;font-size:13.2px">×</text>
<text x="86.3" y="583.2" style="font-size:11.8px">10</text>
<text x="101.0" y="578.2" style="font-size:9.6px">-3</text>
<circle cx="83.5" cy="589.2" r="2" fill="#00ff00"/>
<circle cx="161.3" cy="589.2" r="2" fill="#00ff00"/>
<circle cx="237.1" cy="589.2" r="2" fill="#00ff00"/>
<circle cx="312.5" cy="589.2" r="2" fill="#00ff00"/>
<circle cx="385.5" cy="589.2" r="2" fill="#00ff00"/>
<circle cx="458.5" cy="589.2" r="2" fill="#00ff00"/>
<circle cx="535.0" cy="589.2" r="2" fill="#00ff00"/>
<circle cx="612.7" cy="589.2" r="2" fill="#00ff00"/>
<circle cx="768.3" cy="589.2" r="2" fill="#00ff00"/>
<circle cx="841.5" cy="589.2" r="2" fill="#00ff00"/>
<circle cx="914.2" cy="589.2" r="2" fill="#00ff00"/>
<circle cx="690.9" cy="589.2" r="2" fill="#000"/>
</svg>
<div class="lbl" style="left:7px;top:153px;width:39px;height:28px">Roh-</div>
<div class="lbl" style="left:7px;top:182px;width:39px;height:28px">Sig.:</div>
<div class="lbl" style="left:7px;top:312px;width:39px;height:28px;letter-spacing:1.1px;padding-left:1px">vorv.</div>
<div class="lbl" style="left:7px;top:341px;width:39px;height:28px;letter-spacing:0.45px">EKG:</div>
<div class="lbl" style="left:443px;top:420px;width:198px;height:28px;color:#ff0099;font-size:13px;letter-spacing:1.2px">QRS-Detektion</div>
<div class="btn" style="left:78px;top:723px;width:101px;height:19px;letter-spacing:1.0px;padding-left:1.0px">|&lt;-----</div>
<div class="btn" style="left:187px;top:723px;width:101px;height:19px;letter-spacing:1.45px;padding-left:2.45px">&lt;&lt;&lt;--- (10s)</div>
<div class="btn" style="left:296px;top:723px;width:101px;height:19px;letter-spacing:1.3px;padding-left:1.1px">&lt;&lt;---- (5s)</div>
<div class="btn" style="left:404px;top:723px;width:101px;height:19px;letter-spacing:1.0px;padding-left:-0.19999999999999996px">&lt;----- (1s)</div>
<div class="btn" style="left:543px;top:723px;width:101px;height:19px;letter-spacing:0.82px;padding-left:-1.98px">(1s) -----&gt;</div>
<div class="btn" style="left:652px;top:723px;width:101px;height:19px;letter-spacing:1.27px;padding-left:-0.33000000000000007px">(5s) ----&gt;&gt;</div>
<div class="btn" style="left:761px;top:723px;width:101px;height:19px;letter-spacing:1.28px;padding-left:-0.52px">(10s) ---&gt;&gt;&gt;</div>
<div class="btn" style="left:870px;top:723px;width:101px;height:19px;letter-spacing:1.15px;padding-left:0.1499999999999999px">-----&gt;|</div>
<div class="gl" style="left:47px;top:758px;width:49px;height:28px;letter-spacing:0px">FP:</div>
<div class="ed" style="left:77px;top:758px;width:59px;height:21px">0</div>
<div class="gl" style="left:196px;top:758px;width:49px;height:28px">FN:</div>
<div class="ed" style="left:225px;top:758px;width:59px;height:21px">2</div>
<div class="gl" style="left:344px;top:758px;width:29px;height:28px">F :</div>
<div class="ed" style="left:374px;top:758px;width:59px;height:21px">2</div>
<div class="gl" style="left:443px;top:758px;width:29px;height:28px"><span style="display:inline-block;transform:scaleX(1.45);transform-origin:0 0">=</span></div>
<div class="ed" style="left:473px;top:758px;width:59px;height:21px;letter-spacing:0.85px">2.8169</div>
<div class="gl" style="left:542px;top:758px;width:128px;height:28px">%</div>
<div class="abs" style="left:7px;top:787px;width:782px;height:21px;background:#d8d8d8;font-size:12.5px;line-height:17.5px;padding-left:1px;letter-spacing:0.85px">Bereit ...</div>
<div class="btn" style="left:800px;top:788px;width:176px;height:19px;font-size:13.3px;line-height:18px;letter-spacing:0.35px">Close</div>
</div></body></html>
